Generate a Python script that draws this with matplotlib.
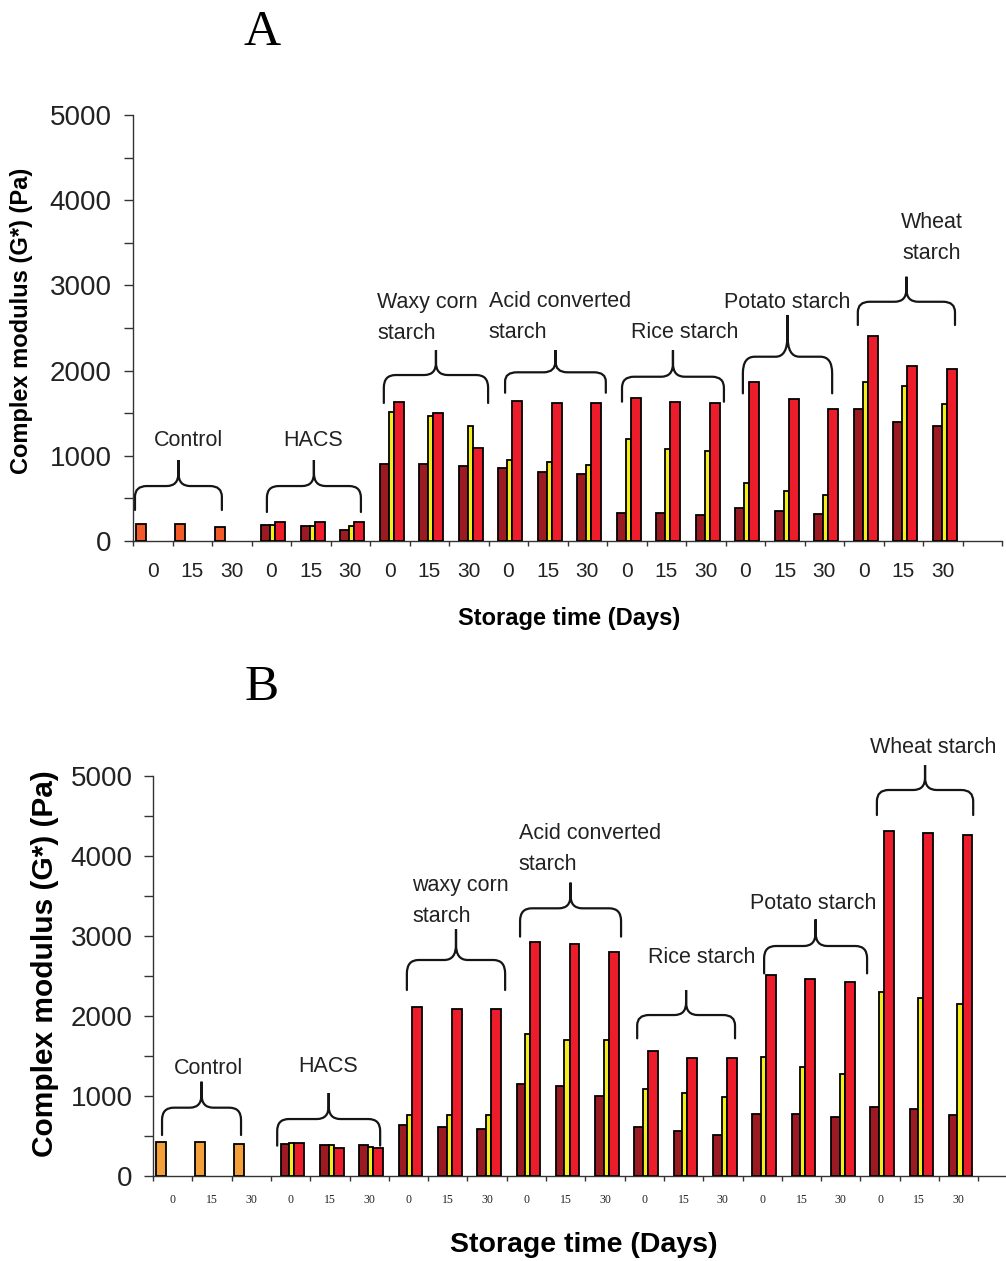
#!/usr/bin/env python3
import numpy as np
import matplotlib
matplotlib.use('Agg')
import matplotlib.pyplot as plt
from matplotlib.path import Path
from matplotlib.patches import PathPatch

plt.rcParams['font.family'] = ['Liberation Sans', 'DejaVu Sans']

#### Data

groups = ['Control', 'HACS', 'Waxy corn\nstarch', 'Acid converted\nstarch',
          'Rice starch', 'Potato starch', 'Wheat\nstarch']
groups_b = ['Control', 'HACS', 'waxy corn\nstarch', 'Acid converted\nstarch',
            'Rice starch', 'Potato starch', 'Wheat starch']
days = ['0', '15', '30']

# panel A (G*, Pa)
a_control = [196, 196, 168]
a_dark = [188, 180, 129, 904, 904, 880, 853, 806, 783,
          332, 325, 305, 384, 356, 317, 1546, 1393, 1354]
a_yellow = [188, 180, 180, 1518, 1467, 1350, 951, 931, 892,
            1197, 1080, 1060, 677, 590, 540, 1870, 1819, 1608]
a_red = [227, 227, 227, 1628, 1499, 1088, 1647, 1623, 1623,
         1675, 1635, 1616, 1870, 1663, 1546, 2410, 2058, 2015]

# panel B (G*, Pa)
b_control = [425, 425, 396]
b_dark = [396, 388, 388, 633, 613, 583, 1150, 1125, 1000,
          617, 567, 517, 771, 771, 742, 867, 833, 763]
b_yellow = [417, 388, 362, 763, 763, 763, 1771, 1700, 1700,
            1083, 1042, 992, 1492, 1358, 1271, 2304, 2229, 2150]
b_red = [417, 346, 346, 2113, 2092, 2092, 2929, 2900, 2796,
         1567, 1471, 1471, 2513, 2463, 2429, 4317, 4283, 4263]

#### Layout of the braces (x in categories, y in Pa): x0, x1, y_end, y_mid, y_peak
braces_a = [(0.05, 2.25, 364, 645, 950), (3.39, 5.77, 340, 645, 950),
            (6.35, 8.99, 1620, 1948, 2240), (9.42, 11.97, 1740, 1980, 2240),
            (12.38, 14.96, 1635, 1928, 2240), (15.44, 17.70, 1733, 2163, 2653),
            (18.35, 20.81, 2535, 2808, 3102)]
# label x, label y, alignment
labels_a = [(1.40, 1185, 'center'), (4.56, 1185, 'center'), (6.18, 2617, 'left'),
            (9.01, 2629, 'left'), (13.97, 2453, 'center'), (16.56, 2805, 'center'),
            (20.23, 3556, 'center')]
braces_b = [(0.23, 2.24, 512, 854, 1179), (3.16, 5.78, 379, 712, 1037),
            (6.46, 8.96, 2325, 2700, 3083), (9.34, 11.91, 2992, 3346, 3667),
            (12.32, 14.81, 1721, 2012, 2325), (15.55, 18.17, 2533, 2875, 3208),
            (18.42, 20.87, 4512, 4825, 5137)]
labels_b = [(1.40, 1350, 'center'), (4.45, 1375, 'center'), (6.59, 3437, 'left'),
            (9.31, 4087, 'left'), (13.97, 2737, 'center'), (16.79, 3412, 'center'),
            (19.85, 5362, 'center')]

c_dark = '#9c1a22'
c_yel = '#f6ee1a'
c_red = '#ec1c2a'


def brace(ax, x0, x1, ye, ym, yp, rx=0.3):
    xc = (x0 + x1) / 2
    dy = 0.45 * (ym - ye)
    dp = 0.5 * (yp - ym)
    verts = [(x0, ye), (x0, ym - dy), (x0, ym), (x0 + rx, ym),
             (xc - rx, ym), (xc, ym), (xc, ym + dp), (xc, yp),
             (xc, ym + dp), (xc, ym), (xc + rx, ym), (x1 - rx, ym),
             (x1, ym), (x1, ym - dy), (x1, ye)]
    codes = [Path.MOVETO, Path.LINETO, Path.CURVE3, Path.CURVE3,
             Path.LINETO, Path.CURVE3, Path.CURVE3, Path.LINETO,
             Path.LINETO, Path.CURVE3, Path.CURVE3, Path.LINETO,
             Path.CURVE3, Path.CURVE3, Path.LINETO]
    ax.add_patch(PathPatch(Path(verts, codes), fill=False, lw=1.6,
                           color='#151515', clip_on=False, capstyle='round'))


def panel(ax, control, dark, yel, red, c_ctrl, braces, labels, names,
          tick_font, xpad, ypad):
    n = len(control) + len(dark)
    cats = np.arange(n)
    xc = cats[:3]
    xs = cats[3:]
    ax.bar(xc + 0.07, control, width=0.25, align='edge', color=c_ctrl,
           edgecolor='black', lw=1.3, zorder=3)
    ax.bar(xs + 0.25, dark, width=0.22, align='edge', color=c_dark,
           edgecolor='black', lw=1.3, zorder=3)
    ax.bar(xs + 0.47, yel, width=0.13, align='edge', color=c_yel,
           edgecolor='black', lw=1.3, zorder=3)
    ax.bar(xs + 0.60, red, width=0.25, align='edge', color=c_red,
           edgecolor='black', lw=1.3, zorder=3)

    ax.set_xlim(0, 22)
    ax.set_ylim(0, 5000)
    ax.spines['top'].set_visible(False)
    ax.spines['right'].set_visible(False)
    for s in ['left', 'bottom']:
        ax.spines[s].set_color('#333333')
        ax.spines[s].set_linewidth(1.0)

    ax.set_yticks(np.arange(0, 5001, 1000))
    ax.set_yticks(np.arange(500, 5000, 1000), minor=True)
    ax.tick_params(axis='y', which='both', direction='out', length=6.5,
                   width=1.0, color='#333333', labelsize=20,
                   labelcolor='#222222', pad=ypad)

    ax.set_xticks(np.arange(0, 23))
    ax.set_xticklabels([])
    ax.set_xticks(cats + 0.5, minor=True)
    ax.set_xticklabels(days * 7, minor=True, **tick_font)
    ax.tick_params(axis='x', which='major', direction='out', length=3.5,
                   width=1.0, color='#333333')
    ax.tick_params(axis='x', which='minor', length=0, pad=xpad)

    for b in braces:
        brace(ax, *b)
    for (lx, ly, ha), name in zip(labels, names):
        ax.text(lx, ly, name, ha=ha, va='center', fontsize=15.5,
                color='#222222', linespacing=1.6, clip_on=False)


fig = plt.figure(figsize=(10.06, 12.61), dpi=100)

ax1 = fig.add_axes([133 / 1006, 1 - 541 / 1261, 869 / 1006, 426 / 1261])
panel(ax1, a_control, a_dark, a_yellow, a_red, '#f25a2a', braces_a, labels_a,
      groups, {'fontsize': 15, 'color': '#222222'}, 15, 9)

ax2 = fig.add_axes([153 / 1006, 1 - 1176 / 1261, 864.6 / 1006, 400 / 1261])
panel(ax2, b_control, b_dark, b_yellow, b_red, '#f4a03a', braces_b, labels_b,
      groups_b, {'fontsize': 8.5, 'color': '#222222',
                 'family': 'Liberation Serif'}, 13, 8)

# axis titles and panel letters
fig.text(22 / 1006, 1 - 321 / 1261, 'Complex modulus (G*) (Pa)', rotation=90,
         ha='center', va='center', fontsize=17, fontweight='bold')
fig.text(569 / 1006, 1 - 618 / 1261, 'Storage time (Days)', ha='center',
         va='center', fontsize=17, fontweight='bold')
fig.text(45 / 1006, 1 - 964 / 1261, 'Complex modulus (G*) (Pa)', rotation=90,
         ha='center', va='center', fontsize=21.5, fontweight='bold')
fig.text(584 / 1006, 1 - 1245 / 1261, 'Storage time (Days)', ha='center',
         va='center', fontsize=20.5, fontweight='bold')
fig.text(262 / 1006, 1 - 33 / 1261, 'A', ha='center', va='center',
         fontsize=37, family='Liberation Serif')
fig.text(262 / 1006, 1 - 688 / 1261, 'B', ha='center', va='center',
         fontsize=37, family='Liberation Serif')

fig.savefig('out.png', dpi=100)
